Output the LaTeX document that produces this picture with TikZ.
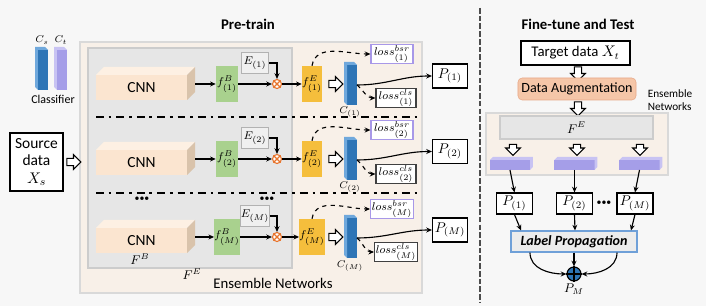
\documentclass[tikz,border=0pt]{standalone}
\usepackage{fontspec}
\setmainfont{Carlito}
\usetikzlibrary{arrows.meta,shapes.arrows,positioning}
\definecolor{bgcol}{HTML}{F7F7F7}
\definecolor{cnnfront}{HTML}{FBE5D0}
\definecolor{cnntop}{HTML}{FDF0E3}
\definecolor{cnnside}{HTML}{D9C3AB}
\definecolor{fbgreen}{HTML}{A9D18E}
\definecolor{feyellow}{HTML}{F5BE3C}
\definecolor{clsblue}{HTML}{2E75B6}
\definecolor{clslight}{HTML}{6FA8DC}
\definecolor{tgtpurple}{HTML}{A59EE8}
\definecolor{tgtlight}{HTML}{C8C3F3}
\definecolor{bsrpurple}{HTML}{A898E8}
\definecolor{ensbeige}{HTML}{F8F0E8}
\definecolor{ensgray}{HTML}{E6E6E6}
\definecolor{augsalmon}{HTML}{F5C6A8}
\definecolor{augdraw}{HTML}{E8A887}
\definecolor{otorange}{HTML}{E8742C}
\definecolor{lpblue}{HTML}{6FA0D8}
\tikzset{
  arr/.style={-{Stealth[length=4pt,width=3.5pt]}, thick},
  hollow/.style={single arrow, draw, thick, fill=white, minimum height=0.35cm, inner sep=2.2pt, single arrow head extend=2.6pt, single arrow head indent=0pt},
  cnnbox/.style={fill=cnnfront, minimum width=2.275cm, minimum height=0.625cm, inner sep=0pt, outer sep=0pt, font=\fontsize{11}{13}\selectfont},
  fbbox/.style={fill=fbgreen, minimum width=0.55cm, minimum height=0.9cm, inner sep=0pt, font=\footnotesize},
  febox/.style={fill=feyellow, minimum width=0.5cm, minimum height=0.9cm, inner sep=0pt, font=\footnotesize},
  ebox/.style={draw=gray!60, fill=gray!12, thick, minimum width=0.675cm, minimum height=0.525cm, inner sep=0pt, font=\footnotesize},
  otim/.style={circle, draw=otorange, thick, fill=white, minimum size=0.225cm, inner sep=0pt},
  clsbar/.style={fill=clsblue, minimum width=0.25cm, minimum height=1cm, inner sep=0pt, outer sep=0pt},
  tgtbar/.style={fill=tgtpurple, minimum width=1cm, minimum height=0.25cm, inner sep=0pt, outer sep=0pt},
  bsrbox/.style={draw=bsrpurple, thick, fill=white, minimum width=1.05cm, minimum height=0.45cm, inner sep=1pt, font=\footnotesize},
  clsbox/.style={draw=black!75, thick, fill=white, minimum width=1cm, minimum height=0.475cm, inner sep=1pt, font=\footnotesize},
  pbox/.style={draw, thick, fill=white, minimum width=0.875cm, minimum height=0.6cm, inner sep=0pt},
  sepline/.style={line width=1.8pt, dash pattern=on 5.5pt off 3.5pt on 2pt off 3.5pt},
  dots/.style={font=\fontsize{7}{7}\selectfont, inner sep=0pt},
}
\begin{document}
\begin{tikzpicture}[x=0.025cm, y=-0.025cm]
    \fill[bgcol] (0,0) rectangle (706,306);
    \useasboundingbox (0,0) rectangle (706,306);
    \node[font=\bfseries\fontsize{10.5}{12}\selectfont] (PT) at (248,24) {Pre-train};
    \filldraw[fill=ensbeige, draw=gray!30, thick] (80,42) rectangle (422,293);
    \filldraw[fill=ensgray, draw=gray!40, thick] (88,48) rectangle (292,268);
    \node[font=\small] (FBl) at (140,259) {$F^B$};
    \node[font=\small] (FEl) at (192,274) {$F^E$};
    \node[font=\fontsize{10.5}{12}\selectfont] (EN) at (273,283) {Ensemble Networks};

    \node[clsbar] (Cs) at (43,70) {};
    \fill[clslight] (Cs.south west) -- (Cs.north west) -- (Cs.north east) -- ++(-3,-3) -- ++(-10,0) -- ++(0,40) -- cycle;
    \node[clsbar, fill=tgtpurple] (Ct) at (62,70) {};
    \fill[tgtlight] (Ct.south west) -- (Ct.north west) -- (Ct.north east) -- ++(-3,-3) -- ++(-10,0) -- ++(0,40) -- cycle;
    \node[font=\scriptsize] (Csl) at (42,40) {$C_s$};
    \node[font=\scriptsize] (Ctl) at (61,40) {$C_t$};
    \node[font=\fontsize{8.5}{10}\selectfont] (Clf) at (53,99) {Classifier};

    \node[draw, thick, fill=white, minimum width=1.325cm, minimum height=1.45cm, align=center, inner sep=0pt, font=\fontsize{11}{12.5}\selectfont] (Src) at (36.5,162) {Source\\data\\$X_s$};
    \node[hollow] (Hs) at (72,162) {};

    \node[cnnbox] (CNNa) at (141.5,87.5) {CNN};
    \fill[cnntop] (CNNa.north west) -- ++(8,-8) -- ++(91,0) -- (CNNa.north east) -- cycle;
    \fill[cnnside] (CNNa.north east) -- ++(8,-8) -- ++(0,25) -- (CNNa.south east) -- cycle;
    \node[fbbox] (fBa) at (227,84) {$f^B_{(1)}$};
    \node[ebox] (Ea) at (255,63) {$E_{(1)}$};
    \node[otim] (Oa) at (277,84) {};
    \draw[otorange, thick] (Oa.north west) -- (Oa.south east) (Oa.north east) -- (Oa.south west);
    \node[febox] (fEa) at (312,84) {$f^E_{(1)}$};
    \node[hollow] (Ha) at (334,84) {};
    \node[clsbar] (Ca) at (352,85) {};
    \fill[clslight] (Ca.south west) -- (Ca.north west) -- (Ca.north east) -- ++(-3,-3) -- ++(-10,0) -- ++(0,40) -- cycle;
    \node[font=\scriptsize] (CLa) at (350,112) {$C_{(1)}$};
    \node[bsrbox] (Ba) at (392,54) {$loss^{bsr}_{(1)}$};
    \node[clsbox] (La) at (396,98) {$loss^{cls}_{(1)}$};
    \node[pbox] (Pa) at (450,76) {$P_{(1)}$};
    \draw[arr] ([xshift=0.2cm]fBa.west -| CNNa.east) -- (fBa.west);
    \draw[arr] (fBa) -- (Oa);
    \draw[arr] (Ea.east) -| (Oa.north);
    \draw[arr] (Oa) -- (fEa);
    \draw[arr, dashed] (fEa.north) to[out=80, in=180] (Ba.west);
    \draw[arr, dashed] (Ca.east) to[out=-40, in=180] (La.west);
    \draw[arr] (Ca.east) to[out=0, in=180] (Pa.west);

    \draw[sepline] (96,117) -- (422,117);

    \node[cnnbox] (CNNb) at (141.5,162.5) {CNN};
    \fill[cnntop] (CNNb.north west) -- ++(8,-8) -- ++(91,0) -- (CNNb.north east) -- cycle;
    \fill[cnnside] (CNNb.north east) -- ++(8,-8) -- ++(0,25) -- (CNNb.south east) -- cycle;
    \node[fbbox] (fBb) at (227,159) {$f^B_{(2)}$};
    \node[ebox] (Eb) at (255,138) {$E_{(2)}$};
    \node[otim] (Ob) at (277,159) {};
    \draw[otorange, thick] (Ob.north west) -- (Ob.south east) (Ob.north east) -- (Ob.south west);
    \node[febox] (fEb) at (312,159) {$f^E_{(2)}$};
    \node[hollow] (Hb) at (334,159) {};
    \node[clsbar] (Cb) at (352,160) {};
    \fill[clslight] (Cb.south west) -- (Cb.north west) -- (Cb.north east) -- ++(-3,-3) -- ++(-10,0) -- ++(0,40) -- cycle;
    \node[font=\scriptsize] (CLb) at (350,187) {$C_{(2)}$};
    \node[bsrbox] (Bb) at (392,130) {$loss^{bsr}_{(2)}$};
    \node[clsbox] (Lb) at (396,174) {$loss^{cls}_{(2)}$};
    \node[pbox] (Pb) at (450,151.5) {$P_{(2)}$};
    \draw[arr] ([xshift=0.2cm]fBb.west -| CNNb.east) -- (fBb.west);
    \draw[arr] (fBb) -- (Ob);
    \draw[arr] (Eb.east) -| (Ob.north);
    \draw[arr] (Ob) -- (fEb);
    \draw[arr, dashed] (fEb.north) to[out=80, in=180] (Bb.west);
    \draw[arr, dashed] (Cb.east) to[out=-40, in=180] (Lb.west);
    \draw[arr] (Cb.east) to[out=0, in=180] (Pb.west);

    \draw[sepline] (96,193) -- (422,193);
    \node[dots] (Da) at (142,199) {•••};
    \node[dots] (Db) at (267,199) {•••};

    \node[cnnbox] (CNNm) at (141.5,240.5) {CNN};
    \fill[cnntop] (CNNm.north west) -- ++(8,-8) -- ++(91,0) -- (CNNm.north east) -- cycle;
    \fill[cnnside] (CNNm.north east) -- ++(8,-8) -- ++(0,25) -- (CNNm.south east) -- cycle;
    \node[fbbox] (fBm) at (227,237) {$f^B_{(M)}$};
    \node[ebox] (Em) at (255,216) {$E_{(M)}$};
    \node[otim] (Om) at (277,237) {};
    \draw[otorange, thick] (Om.north west) -- (Om.south east) (Om.north east) -- (Om.south west);
    \node[febox] (fEm) at (312,237) {$f^E_{(M)}$};
    \node[hollow] (Hm) at (334,237) {};
    \node[clsbar] (Cm) at (352,238) {};
    \fill[clslight] (Cm.south west) -- (Cm.north west) -- (Cm.north east) -- ++(-3,-3) -- ++(-10,0) -- ++(0,40) -- cycle;
    \node[font=\scriptsize] (CLm) at (350,266) {$C_{(M)}$};
    \node[bsrbox] (Bm) at (392,209) {$loss^{bsr}_{(M)}$};
    \node[clsbox] (Lm) at (396,252) {$loss^{cls}_{(M)}$};
    \node[pbox] (Pm) at (450,230) {$P_{(M)}$};
    \draw[arr] ([xshift=0.2cm]fBm.west -| CNNm.east) -- (fBm.west);
    \draw[arr] (fBm) -- (Om);
    \draw[arr] (Em.east) -| (Om.north);
    \draw[arr] (Om) -- (fEm);
    \draw[arr, dashed] (fEm.north) to[out=80, in=180] (Bm.west);
    \draw[arr, dashed] (Cm.east) to[out=-40, in=180] (Lm.west);
    \draw[arr] (Cm.east) to[out=0, in=180] (Pm.west);

    \draw[line width=1.2pt, dash pattern=on 4pt off 1.5pt, gray!60!black] (480,8) -- (480,302);

    \node[font=\bfseries\fontsize{10.5}{12}\selectfont] (FT) at (578,24) {Fine-tune and Test};
    \node[draw, thick, fill=white, minimum width=2.725cm, minimum height=0.6cm, inner sep=0pt, font=\fontsize{10.5}{12}\selectfont] (Tgt) at (575.5,53) {Target data $X_t$};
    \node[hollow, shape border rotate=270] (Ht) at (578,72) {};
    \node[draw=augdraw, fill=augsalmon, rounded corners=3pt, minimum width=2.95cm, minimum height=0.55cm, inner sep=0pt, font=\fontsize{10}{12}\selectfont] (DA) at (577,89) {Data Augmentation};
    \node[align=left, font=\fontsize{8}{9.5}\selectfont] (EN2) at (670,100) {Ensemble\\Networks};
    \filldraw[fill=ensbeige, draw=gray!30, thick] (486,113) rectangle (668,175);
    \node[hollow, shape border rotate=270] (Hd) at (578,107) {};
    \node[draw=gray!40, fill=ensgray, thick, minimum width=3.825cm, minimum height=0.575cm, font=\small] (FE) at (576.5,127.5) {$F^E$};
    \node[hollow, shape border rotate=270, minimum height=0.25cm] (Ka) at (513,148) {};
    \node[hollow, shape border rotate=270, minimum height=0.25cm] (Kb) at (577,148) {};
    \node[hollow, shape border rotate=270, minimum height=0.25cm] (Km) at (640,148) {};
    \node[tgtbar] (Ra) at (510,165) {};
    \fill[tgtlight] (Ra.south east) -- (Ra.north east) -- (Ra.north west) -- ++(3,-3) -- ++(40,0) -- ++(0,10) -- cycle;
    \node[tgtbar] (Rb) at (574.5,165) {};
    \fill[tgtlight] (Rb.south east) -- (Rb.north east) -- (Rb.north west) -- ++(3,-3) -- ++(40,0) -- ++(0,10) -- cycle;
    \node[tgtbar] (Rm) at (639.5,165) {};
    \fill[tgtlight] (Rm.south east) -- (Rm.north east) -- (Rm.north west) -- ++(3,-3) -- ++(40,0) -- ++(0,10) -- cycle;

    \node[pbox, minimum width=0.9cm, minimum height=0.525cm] (Qa) at (514.5,203.5) {$P_{(1)}$};
    \node[pbox, minimum width=0.9cm, minimum height=0.525cm] (Qb) at (574.5,203.5) {$P_{(2)}$};
    \node[pbox, minimum width=0.9cm, minimum height=0.525cm] (Qm) at (635,203.5) {$P_{(M)}$};
    \node[dots] (Dc) at (604,203) {•••};
    \node[draw=lpblue, fill=gray!15, thick, minimum width=3.15cm, minimum height=0.525cm, inner sep=0pt, font=\bfseries\itshape\fontsize{10}{12}\selectfont] (LP) at (574,241.5) {Label Propagation};
    \node[circle, draw, thick, fill=clsblue, minimum size=0.35cm, inner sep=0pt] (Sum) at (574,274) {};
    \draw[thick] (Sum.north) -- (Sum.south) (Sum.west) -- (Sum.east);
    \node[font=\small] (PM) at (574,289) {$P_M$};
    \draw[arr] (Ra.south) -- (Qa.north);
    \draw[arr] (Rb.south) -- (Qb.north);
    \draw[arr] (Rm.south) -- (Qm.north);
    \draw[arr] (Qa.south) -- ([xshift=-1.325cm]LP.north);
    \draw[arr] (Qb.south) -- ([xshift=0.025cm]LP.north);
    \draw[arr] (Qm.south) -- ([xshift=1.425cm]LP.north);
    \draw[arr] ([xshift=-1.1cm]LP.south) to[out=-90, in=180] (Sum.west);
    \draw[arr] ([xshift=1.075cm]LP.south) to[out=-90, in=0] (Sum.east);
    \draw[arr] (LP.south) -- (Sum.north);
\end{tikzpicture}
\end{document}
